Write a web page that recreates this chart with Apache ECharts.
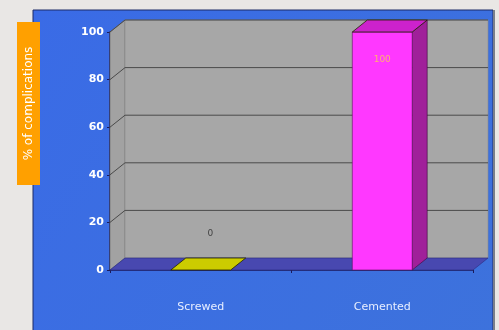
<!DOCTYPE html>
<html><head><meta charset="utf-8">
<script src="https://cdn.jsdelivr.net/npm/echarts@6/dist/echarts.min.js"></script>
<style>html,body{margin:0;padding:0;background:#e9e7e5;}#c{width:499px;height:330px;}</style>
</head><body><div id="c"></div>
<script>
const categories = ['Screwed', 'Cemented'];
const values = [0, 100];
const valueLabels = ['0', '100'];
const yTicks = [0, 20, 40, 60, 80, 100];
const yTitle = '% of complications';

const faceColors = [
  {front: '#d4d400', side: '#8a8a00', top: '#cccc00'},
  {front: '#ff38ff', side: '#a0209a', top: '#cc22cc'}
];
const DX = 15, DY = -12;
const chart = echarts.init(document.getElementById('c'), null, {renderer: 'canvas'});
const FONT = '"DejaVu Sans", sans-serif';

chart.setOption({
  animation: false,
  backgroundColor: '#e9e7e5',
  graphic: [
    {type: 'rect', shape: {x: 33, y: 10, width: 460, height: 330}, z: -10,
     style: {fill: new echarts.graphic.LinearGradient(0, 0, 1, 1, [{offset: 0, color: '#3a6be6'}, {offset: 1, color: '#3d72dc'}]), stroke: '#1c2a66', lineWidth: 1}},
    {type: 'line', shape: {x1: 494, y1: 10, x2: 494, y2: 330}, z: -10, style: {stroke: '#7a7f8a', lineWidth: 2}},
    {type: 'rect', shape: {x: 17, y: 22, width: 23, height: 163}, z: 5, style: {fill: '#ffa000'}},
    {type: 'text', x: 28.5, y: 103.5, rotation: Math.PI / 2, z: 6,
     style: {text: yTitle, fill: '#ffffff', font: '12px ' + FONT, align: 'center', verticalAlign: 'middle'}}
  ],
  grid: {left: 110, right: 26, top: 32, bottom: 60},
  xAxis: {
    type: 'category', data: categories,
    axisLine: {show: true, lineStyle: {color: '#1a1a5a', width: 1.5}},
    axisTick: {show: true, lineStyle: {color: '#1a1a5a'}, length: 3},
    axisLabel: {color: '#e8efff', fontFamily: FONT, fontSize: 11, margin: 32}
  },
  yAxis: {
    type: 'value', min: 0, max: 100, interval: 20,
    axisLine: {show: true, lineStyle: {color: '#1a1a5a', width: 1.5}},
    axisTick: {show: true, lineStyle: {color: '#1a1a5a'}, length: 3},
    splitLine: {show: false},
    axisLabel: {color: '#ffffff', fontFamily: FONT, fontWeight: 'bold', fontSize: 11, margin: 6,
      formatter: v => yTicks.includes(v) ? String(v) : ''}
  },
  series: [
    {
      type: 'custom', z: 1, data: [[0]],
      renderItem: function (params, api) {
        const p0 = api.coord([0, 0]);
        const cs = params.coordSys;
        const x0 = cs.x, x1 = cs.x + cs.width;
        const y0 = api.coord([0, 0])[1], yT = api.coord([0, 100])[1];
        const ch = [];
        ch.push({type: 'polygon', shape: {points: [[x0, y0], [x0 + DX, y0 + DY], [x0 + DX, yT + DY], [x0, yT]]},
          style: {fill: '#a2a2a2', stroke: '#6a6a6a', lineWidth: 0.6}});
        ch.push({type: 'rect', shape: {x: x0 + DX, y: yT + DY, width: x1 - x0, height: y0 - yT},
          style: {fill: '#a7a7a7', stroke: '#8c8c8c', lineWidth: 0.6}});
        ch.push({type: 'polygon', shape: {points: [[x0, y0], [x1, y0], [x1 + DX, y0 + DY], [x0 + DX, y0 + DY]]},
          style: {fill: '#4848b0', stroke: '#2a2a80', lineWidth: 0.6}});
        yTicks.forEach(function (v) {
          if (v === 0) return;
          const y = api.coord([0, v])[1];
          ch.push({type: 'polyline', shape: {points: [[x0, y], [x0 + DX, y + DY], [x1 + DX, y + DY]]},
            style: {stroke: '#4a4a4a', lineWidth: 1, fill: null}});
        });
        return {type: 'group', children: ch};
      }
    },
    {
      type: 'custom', z: 2,
      data: values.map((v, i) => [i, v]),
      renderItem: function (params, api) {
        const i = api.value(0), v = api.value(1);
        const base = api.coord([i, 0]);
        const top = api.coord([i, v]);
        const bw = api.size([1, 0])[0] * 0.33;
        const xl = base[0] - bw / 2, xr = base[0] + bw / 2;
        const yb = base[1], yt = top[1];
        const c = faceColors[i];
        const ch = [];
        if (yb - yt > 0.5) {
          ch.push({type: 'polygon', shape: {points: [[xr, yb], [xr + DX, yb + DY], [xr + DX, yt + DY], [xr, yt]]},
            style: {fill: c.side, stroke: '#3a0a3a', lineWidth: 0.6}});
          ch.push({type: 'rect', shape: {x: xl, y: yt, width: bw, height: yb - yt},
            style: {fill: c.front, stroke: '#5a105a', lineWidth: 0.6}});
        }
        ch.push({type: 'polygon', shape: {points: [[xl, yt], [xr, yt], [xr + DX, yt + DY], [xl + DX, yt + DY]]},
          style: {fill: c.top, stroke: '#222200', lineWidth: 0.8}});
        const ly = (yb - yt > 40) ? yt + 28 : yt - 36;
        const lx = (yb - yt > 40) ? base[0] : base[0] + DX / 2 + 2;
        ch.push({type: 'text', x: lx, y: ly,
          style: {text: valueLabels[i], fill: (yb - yt > 40) ? '#ffb070' : '#444444', font: '9px ' + FONT, align: 'center', verticalAlign: 'middle'}});
        return {type: 'group', children: ch};
      }
    }
  ]
});
</script></body></html>
